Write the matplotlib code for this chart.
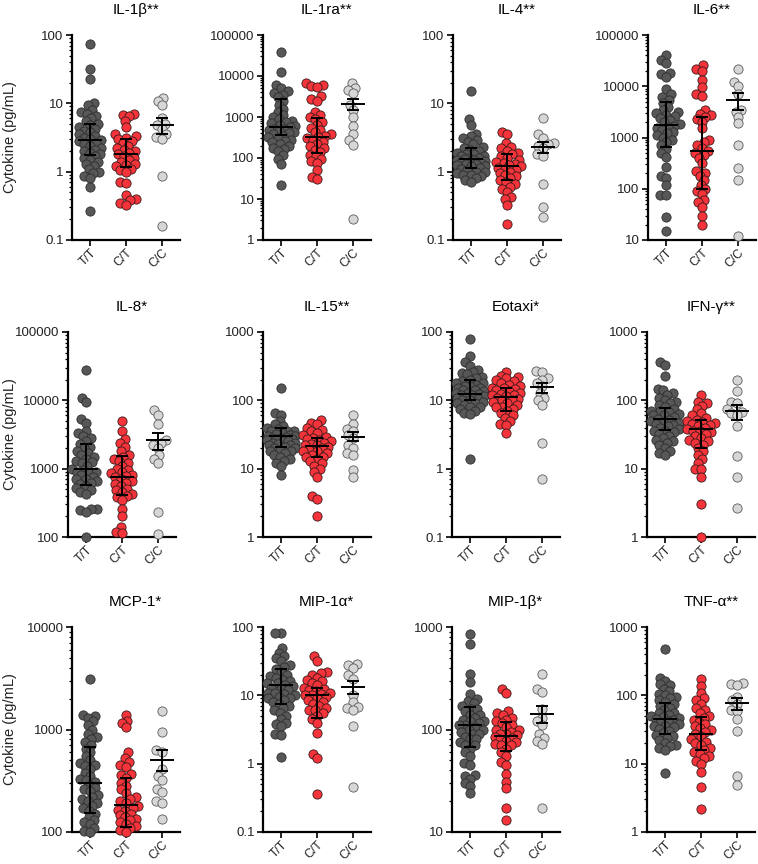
import numpy as np
import matplotlib
matplotlib.use("Agg")
import matplotlib.pyplot as plt
from matplotlib.ticker import FixedLocator, LogLocator, NullFormatter

plt.rcParams['font.family'] = ['Liberation Sans', 'DejaVu Sans']

genotypes = ["T/T", "C/T", "C/C"]
cytokines = ["IL-1β**", "IL-1ra**", "IL-4**", "IL-6**",
             "IL-8*", "IL-15**", "Eotaxi*", "IFN-γ**",
             "MCP-1*", "MIP-1α*", "MIP-1β*", "TNF-α**"]
y_ranges = [(0.1, 100), (1, 100000), (0.1, 100), (10, 100000),
            (100, 100000), (1, 1000), (0.1, 100), (1, 1000),
            (100, 10000), (0.1, 100), (10, 1000), (1, 1000)]

# values, per genotype
il1b_tt = [75, 32, 23, 10, 9.5, 8, 7.5, 7, 6.5, 6, 5.5, 5, 4.8, 4.5, 4.2, 4, 3.8, 3.5, 3.3, 3.1, 3, 2.9,
           2.8, 2.6, 2.5, 2.4, 2.2, 2.1, 2, 1.9, 1.8, 1.7, 1.6, 1.5, 1.4, 1.3, 1.2, 1.1, 1.0, 0.95, 0.85,
           0.8, 0.6, 0.27]
il1b_ct = [7, 6.8, 6.5, 5.5, 4.5, 3.5, 3.3, 3.1, 3, 2.8, 2.6, 2.4, 2.2, 2.1, 2, 1.9, 1.8, 1.7, 1.6, 1.5,
           1.4, 1.3, 1.25, 1.2, 1.1, 1.05, 1.0, 0.7, 0.68, 0.45, 0.4, 0.38, 0.35, 0.33]
il1b_cc = [12, 11, 9.5, 6, 5, 4.8, 4.2, 3.5, 3.2, 3.0, 0.87, 0.16]

il1ra_tt = [38000, 12500, 6200, 5000, 4200, 3800, 3500, 3000, 2500, 2000, 1600, 1300, 1100, 1000, 900,
            800, 750, 700, 650, 600, 560, 520, 500, 480, 450, 420, 400, 380, 350, 320, 300, 280, 260,
            250, 220, 200, 180, 170, 150, 120, 95, 70, 22]
il1ra_ct = [6800, 6000, 5800, 5500, 3200, 2700, 2500, 1300, 1100, 1000, 900, 750, 650, 550, 480, 420,
            380, 340, 320, 300, 280, 250, 220, 200, 180, 160, 140, 120, 110, 95, 85, 75, 50, 35, 30]
il1ra_cc = [6800, 5200, 4500, 3800, 2000, 1500, 1000, 600, 380, 270, 210, 3.2]

il4_tt = [15, 5.8, 4.8, 3.6, 3.3, 3.1, 2.9, 2.7, 2.5, 2.3, 2.2, 2.1, 2.0, 1.9, 1.8, 1.8, 1.7, 1.7, 1.6,
          1.6, 1.55, 1.5, 1.5, 1.45, 1.4, 1.4, 1.35, 1.3, 1.3, 1.25, 1.2, 1.2, 1.15, 1.1, 1.05, 1.0, 1.0,
          0.95, 0.9, 0.9, 0.85, 0.8, 0.75, 0.7]
il4_ct = [3.8, 3.5, 2.6, 2.3, 2.2, 2.0, 1.9, 1.8, 1.7, 1.6, 1.5, 1.4, 1.35, 1.3, 1.25, 1.2, 1.15, 1.1,
          1.05, 1.0, 0.95, 0.9, 0.85, 0.8, 0.75, 0.7, 0.65, 0.6, 0.55, 0.5, 0.42, 0.4, 0.33, 0.17]
il4_cc = [6, 3.5, 3.1, 2.6, 2.5, 2.4, 2.2, 1.8, 1.7, 0.65, 0.3, 0.22]

il6_tt = [40000, 32000, 28000, 18000, 17000, 15000, 9000, 7000, 6200, 5500, 4800, 4000, 3500, 3200,
          3000, 2800, 2600, 2400, 2200, 2000, 1800, 1700, 1600, 1500, 1400, 1300, 1200, 1100, 1000, 900,
          800, 700, 600, 500, 420, 260, 180, 160, 120, 75, 75, 28, 15]
il6_ct = [26000, 22000, 20000, 13000, 9500, 7000, 6500, 3500, 2900, 2700, 2500, 2300, 2000, 1500, 900,
          800, 700, 620, 550, 500, 450, 400, 320, 220, 200, 180, 150, 120, 100, 90, 80, 60, 55, 45, 30, 20]
il6_cc = [22000, 12000, 10000, 7000, 3500, 3200, 2500, 1900, 700, 250, 150, 12]

il8_tt = [28000, 11000, 9500, 5300, 4700, 3600, 3300, 3000, 2800, 2500, 2300, 2100, 2000, 1800, 1700,
          1600, 1500, 1400, 1300, 1250, 1200, 1100, 1000, 950, 900, 900, 850, 800, 750, 700, 700, 650,
          620, 600, 560, 520, 480, 450, 430, 260, 255, 245, 235, 100]
il8_ct = [5000, 3500, 2700, 2400, 2100, 1800, 1600, 1500, 1400, 1300, 1200, 1100, 1000, 950, 900, 850,
          800, 780, 750, 700, 650, 620, 600, 550, 500, 480, 450, 420, 400, 380, 350, 260, 200, 140, 120, 115]
il8_cc = [7200, 6200, 4500, 2600, 2400, 2200, 2000, 1600, 1400, 1200, 230, 110]

il15_tt = [150, 65, 62, 50, 45, 42, 40, 38, 36, 35, 35, 33, 32, 31, 30, 30, 29, 28, 28, 27, 27, 26, 25,
           25, 24, 24, 23, 22, 22, 21, 20, 20, 19, 18, 18, 17, 16, 15, 14, 13, 12, 11, 8]
il15_ct = [52, 47, 45, 40, 37, 35, 33, 31, 29, 28, 27, 26, 25, 24, 23, 22, 22, 21, 20, 19, 18, 18, 17,
           16, 15, 15, 14, 13, 12, 11, 10, 9, 7.5, 4, 3.6, 2]
il15_cc = [60, 45, 38, 36, 31, 28, 22, 20, 17, 16, 9.5, 7.5]

eotaxi_tt = [80, 44, 36, 32, 28, 26, 25, 24, 22, 21, 20, 19, 18, 18, 17, 16, 16, 15, 15, 14, 14, 13.5,
             13, 13, 12.5, 12, 12, 11.5, 11, 11, 10.5, 10, 10, 9.5, 9, 9, 8.5, 8, 8, 7.5, 7, 6.5, 6.3, 1.4]
eotaxi_ct = [26, 23, 22, 21, 20, 19, 18, 17, 16, 15, 15, 14.5, 14, 13.5, 13, 12.5, 12, 12, 11.5, 11,
             10.5, 10, 10, 9.5, 9, 8.5, 8, 8, 7.5, 7, 6.5, 6, 5.5, 5, 4.5, 4.3, 3.3]
eotaxi_cc = [27, 26, 21, 20, 18, 16, 13, 11, 10, 8.5, 2.4, 0.7]

ifng_tt = [370, 330, 230, 145, 140, 130, 120, 110, 100, 95, 90, 85, 80, 75, 70, 70, 67, 64, 60, 60, 57,
           54, 52, 50, 48, 46, 45, 44, 42, 40, 38, 36, 35, 34, 32, 30, 28, 26, 25, 24, 22, 20, 18, 17, 16]
ifng_ct = [120, 95, 90, 82, 75, 65, 60, 56, 52, 50, 48, 46, 45, 44, 42, 40, 38, 36, 35, 34, 32, 30, 28,
           26, 25, 24, 22, 20, 18, 16, 14, 12, 10, 10, 7.5, 3, 1]
ifng_cc = [200, 135, 95, 90, 75, 68, 65, 62, 42, 15.5, 7.5, 2.7]

mcp1_tt = [3100, 1400, 1350, 1300, 1200, 1100, 1000, 900, 850, 800, 750, 700, 650, 600, 550, 500, 470,
           450, 440, 410, 380, 350, 330, 320, 310, 290, 270, 260, 250, 230, 220, 210, 200, 190, 180, 170,
           160, 150, 140, 130, 125, 120, 110, 102, 100]
mcp1_ct = [1400, 1200, 1150, 1050, 600, 530, 480, 450, 430, 370, 360, 340, 300, 280, 260, 240, 220, 210,
           200, 190, 180, 170, 165, 160, 150, 145, 140, 135, 130, 125, 120, 115, 110, 105, 100]
mcp1_cc = [1500, 950, 630, 600, 410, 350, 320, 260, 245, 200, 190, 135]

mip1a_tt = [82, 82, 50, 42, 38, 35, 32, 28, 26, 24, 22, 20, 19, 18, 17, 16, 15, 15, 14, 13.5, 13, 12.5,
            12, 11, 11, 10.5, 10, 9.5, 9, 9, 8.5, 8, 7.5, 7, 6.5, 6, 5.5, 5, 4.5, 4, 3.8, 3.5, 2.7, 2.6, 1.25]
mip1a_ct = [38, 32, 22, 21, 20, 18, 17, 16, 15, 14, 13, 12.5, 12, 11.5, 11, 10.5, 10, 10, 9.5, 9, 8.5,
            8, 7.5, 7, 6.5, 6, 6, 5.5, 5, 4.5, 4, 2.8, 1.4, 1.2, 0.36]
mip1a_cc = [29, 28, 25, 20, 17.5, 10, 8, 6.8, 6.5, 6.2, 3.5, 0.45]

mip1b_tt = [850, 680, 350, 290, 220, 200, 190, 180, 170, 160, 160, 150, 140, 140, 130, 125, 120, 120,
            115, 110, 110, 105, 100, 100, 95, 90, 90, 85, 80, 80, 75, 70, 70, 65, 60, 55, 47, 45, 36, 35,
            33, 30, 28, 24]
mip1b_ct = [250, 225, 150, 145, 140, 130, 125, 120, 115, 110, 105, 100, 100, 95, 90, 90, 88, 85, 82, 80,
            78, 75, 72, 70, 70, 65, 60, 55, 48, 45, 37, 31, 27, 17, 13]
mip1b_cc = [350, 250, 230, 160, 130, 120, 110, 90, 82, 78, 72, 17]

tnfa_tt = [470, 180, 160, 145, 140, 125, 115, 105, 100, 95, 90, 85, 80, 75, 70, 65, 60, 56, 55, 52, 50,
           48, 46, 45, 44, 42, 40, 38, 36, 35, 34, 32, 30, 28, 26, 25, 24, 22, 20, 19, 18, 17, 16, 7.3]
tnfa_ct = [175, 135, 110, 90, 85, 75, 65, 60, 55, 50, 47, 44, 41, 38, 35, 33, 31, 29, 27, 25, 23, 21,
           20, 19, 17, 16, 15, 14, 13, 12, 11, 10, 7.5, 4.5, 2.2]
tnfa_cc = [150, 145, 140, 95, 85, 75, 62, 58, 45, 30, 6.5, 4.8]

# (median, q1, q3) for T/T, C/T, C/C
il1b_iqr = [(2.95, 1.74, 4.94), (1.84, 1.17, 3.05), (4.8, 3.55, 6.0)]
il1ra_iqr = [(560, 365, 2750), (318, 135, 960), (2040, 1450, 2700)]
il4_iqr = [(1.52, 1.15, 2.25), (1.2, 0.75, 1.8), (2.3, 1.85, 2.7)]
il6_iqr = [(1750, 650, 4950), (545, 100, 2500), (5500, 3500, 7500)]
il8_iqr = [(1000, 570, 2300), (750, 405, 1550), (2650, 1900, 3300)]
il15_iqr = [(30, 21, 39), (21.5, 15, 28.5), (29.5, 25, 34)]
eotaxi_iqr = [(12.5, 10.2, 20), (11.3, 6.9, 15.2), (15.5, 13, 18)]
ifng_iqr = [(53, 37, 77), (38, 20, 52), (70, 52, 86)]
mcp1_iqr = [(300, 152, 673), (185, 112, 336), (505, 390, 630)]
mip1a_iqr = [(14, 7.5, 24.5), (10, 4.7, 13), (13.2, 10.4, 16.3)]
mip1b_iqr = [(110, 67, 165), (87, 62, 118), (142, 115, 170)]
tnfa_iqr = [(45, 27, 78), (27, 15.8, 47.5), (76, 60, 92)]

panel_values = [
    (il1b_tt, il1b_ct, il1b_cc), (il1ra_tt, il1ra_ct, il1ra_cc), (il4_tt, il4_ct, il4_cc),
    (il6_tt, il6_ct, il6_cc), (il8_tt, il8_ct, il8_cc), (il15_tt, il15_ct, il15_cc),
    (eotaxi_tt, eotaxi_ct, eotaxi_cc), (ifng_tt, ifng_ct, ifng_cc), (mcp1_tt, mcp1_ct, mcp1_cc),
    (mip1a_tt, mip1a_ct, mip1a_cc), (mip1b_tt, mip1b_ct, mip1b_cc), (tnfa_tt, tnfa_ct, tnfa_cc),
]
panel_iqr = [il1b_iqr, il1ra_iqr, il4_iqr, il6_iqr, il8_iqr, il15_iqr,
             eotaxi_iqr, ifng_iqr, mcp1_iqr, mip1a_iqr, mip1b_iqr, tnfa_iqr]

fill_colors = ["#575757", "#f5333a", "#d6d6d6"]
edge_colors = ["#2e2e2e", "#3a1a1a", "#5a5a5a"]

W, H = 758, 864
col_left = [[72, 263, 453, 648], [68, 263, 452, 647], [72, 263, 452, 647]]
row_top = [35, 332, 627]
ax_w, ax_h = 108, 205


def swarm_offsets(ys, spacing, max_off):
    order = np.argsort(ys)
    placed = []
    offsets = np.zeros(len(ys))
    grid = np.linspace(-max_off, max_off, 29)
    for i in order:
        y = ys[i]
        near = [(px, py) for px, py in placed if abs(py - y) < spacing]
        cands = [0.0]
        for px, py in near:
            dx = np.sqrt(spacing ** 2 - (py - y) ** 2)
            cands += [px + dx, px - dx]
        cands = [cc for cc in cands if abs(cc) <= max_off]
        cands.sort(key=lambda cc: (abs(cc), cc))
        chosen = None
        for cc in cands:
            if all((cc - px) ** 2 + (y - py) ** 2 >= spacing ** 2 - 1e-6 for px, py in near):
                chosen = cc
                break
        if chosen is None:
            # no free spot inside the band: take the least crowded spot
            best = -1
            for cc in grid:
                d = min((cc - px) ** 2 + (y - py) ** 2 for px, py in near)
                if d > best:
                    best, chosen = d, cc
        offsets[i] = chosen
        placed.append((chosen, y))
    return offsets


fig = plt.figure(figsize=(W / 100, H / 100), dpi=100)

for k in range(12):
    r, c = divmod(k, 4)
    left = col_left[r][c]
    top = row_top[r]
    ax = fig.add_axes([left / W, 1 - (top + ax_h) / H, ax_w / W, ax_h / H])
    lo, hi = y_ranges[k]
    ax.set_yscale('log')
    ax.set_ylim(lo, hi)
    ax.set_xlim(-0.5, 2.5)

    px_per_unit = ax_w / 3.0
    for g in range(3):
        vals = np.array(panel_values[k][g], dtype=float)
        ys = ax.transData.transform(np.column_stack([np.zeros(len(vals)), vals]))[:, 1]
        offs = swarm_offsets(ys, 6.0, 14.0)
        xs = g + offs / px_per_unit
        ax.scatter(xs, vals, s=44, color=fill_colors[g], edgecolors=edge_colors[g],
                   linewidths=0.6, zorder=3, clip_on=False)

        med, q1, q3 = panel_iqr[k][g]
        ax.plot([g - 0.33, g + 0.33], [med, med], color='black', lw=1.4, zorder=5,
                solid_capstyle='butt')
        ax.plot([g, g], [q1, q3], color='black', lw=1.4, zorder=5)
        for q in (q1, q3):
            ax.plot([g - 0.17, g + 0.17], [q, q], color='black', lw=1.4, zorder=5,
                    solid_capstyle='butt')

    decades = 10.0 ** np.arange(np.log10(lo), np.log10(hi) + 0.5)
    ax.yaxis.set_major_locator(FixedLocator(decades))
    ax.set_yticklabels(['{:g}'.format(d) for d in decades])
    ax.yaxis.set_minor_locator(LogLocator(base=10, subs=np.arange(2, 10)))
    ax.yaxis.set_minor_formatter(NullFormatter())

    ax.set_xticks([0, 1, 2])
    ax.set_xticklabels(genotypes, rotation=45, ha='right', va='top', rotation_mode='anchor')

    for side in ('top', 'right'):
        ax.spines[side].set_visible(False)
    for side in ('left', 'bottom'):
        ax.spines[side].set_linewidth(1.6)
    ax.tick_params(axis='y', which='major', length=4, width=1.2, labelsize=9.5, pad=2,
                   color='black', labelcolor='#222222')
    ax.tick_params(axis='y', which='minor', length=2.2, width=0.9)
    ax.tick_params(axis='x', which='major', length=4, width=1.2, labelsize=8.8, pad=1,
                   color='black', labelcolor='#222222')

    ax.text(0.59, 1 + 25 / ax_h, cytokines[k], transform=ax.transAxes, ha='center',
            va='center', fontsize=11, color='black')
    if c == 0:
        fig.text(10 / W, 1 - (top + ax_h / 2) / H, "Cytokine (pg/mL)", rotation=90,
                 ha='center', va='center', fontsize=10.5, color='#222222')

fig.savefig("out.png", dpi=100)
